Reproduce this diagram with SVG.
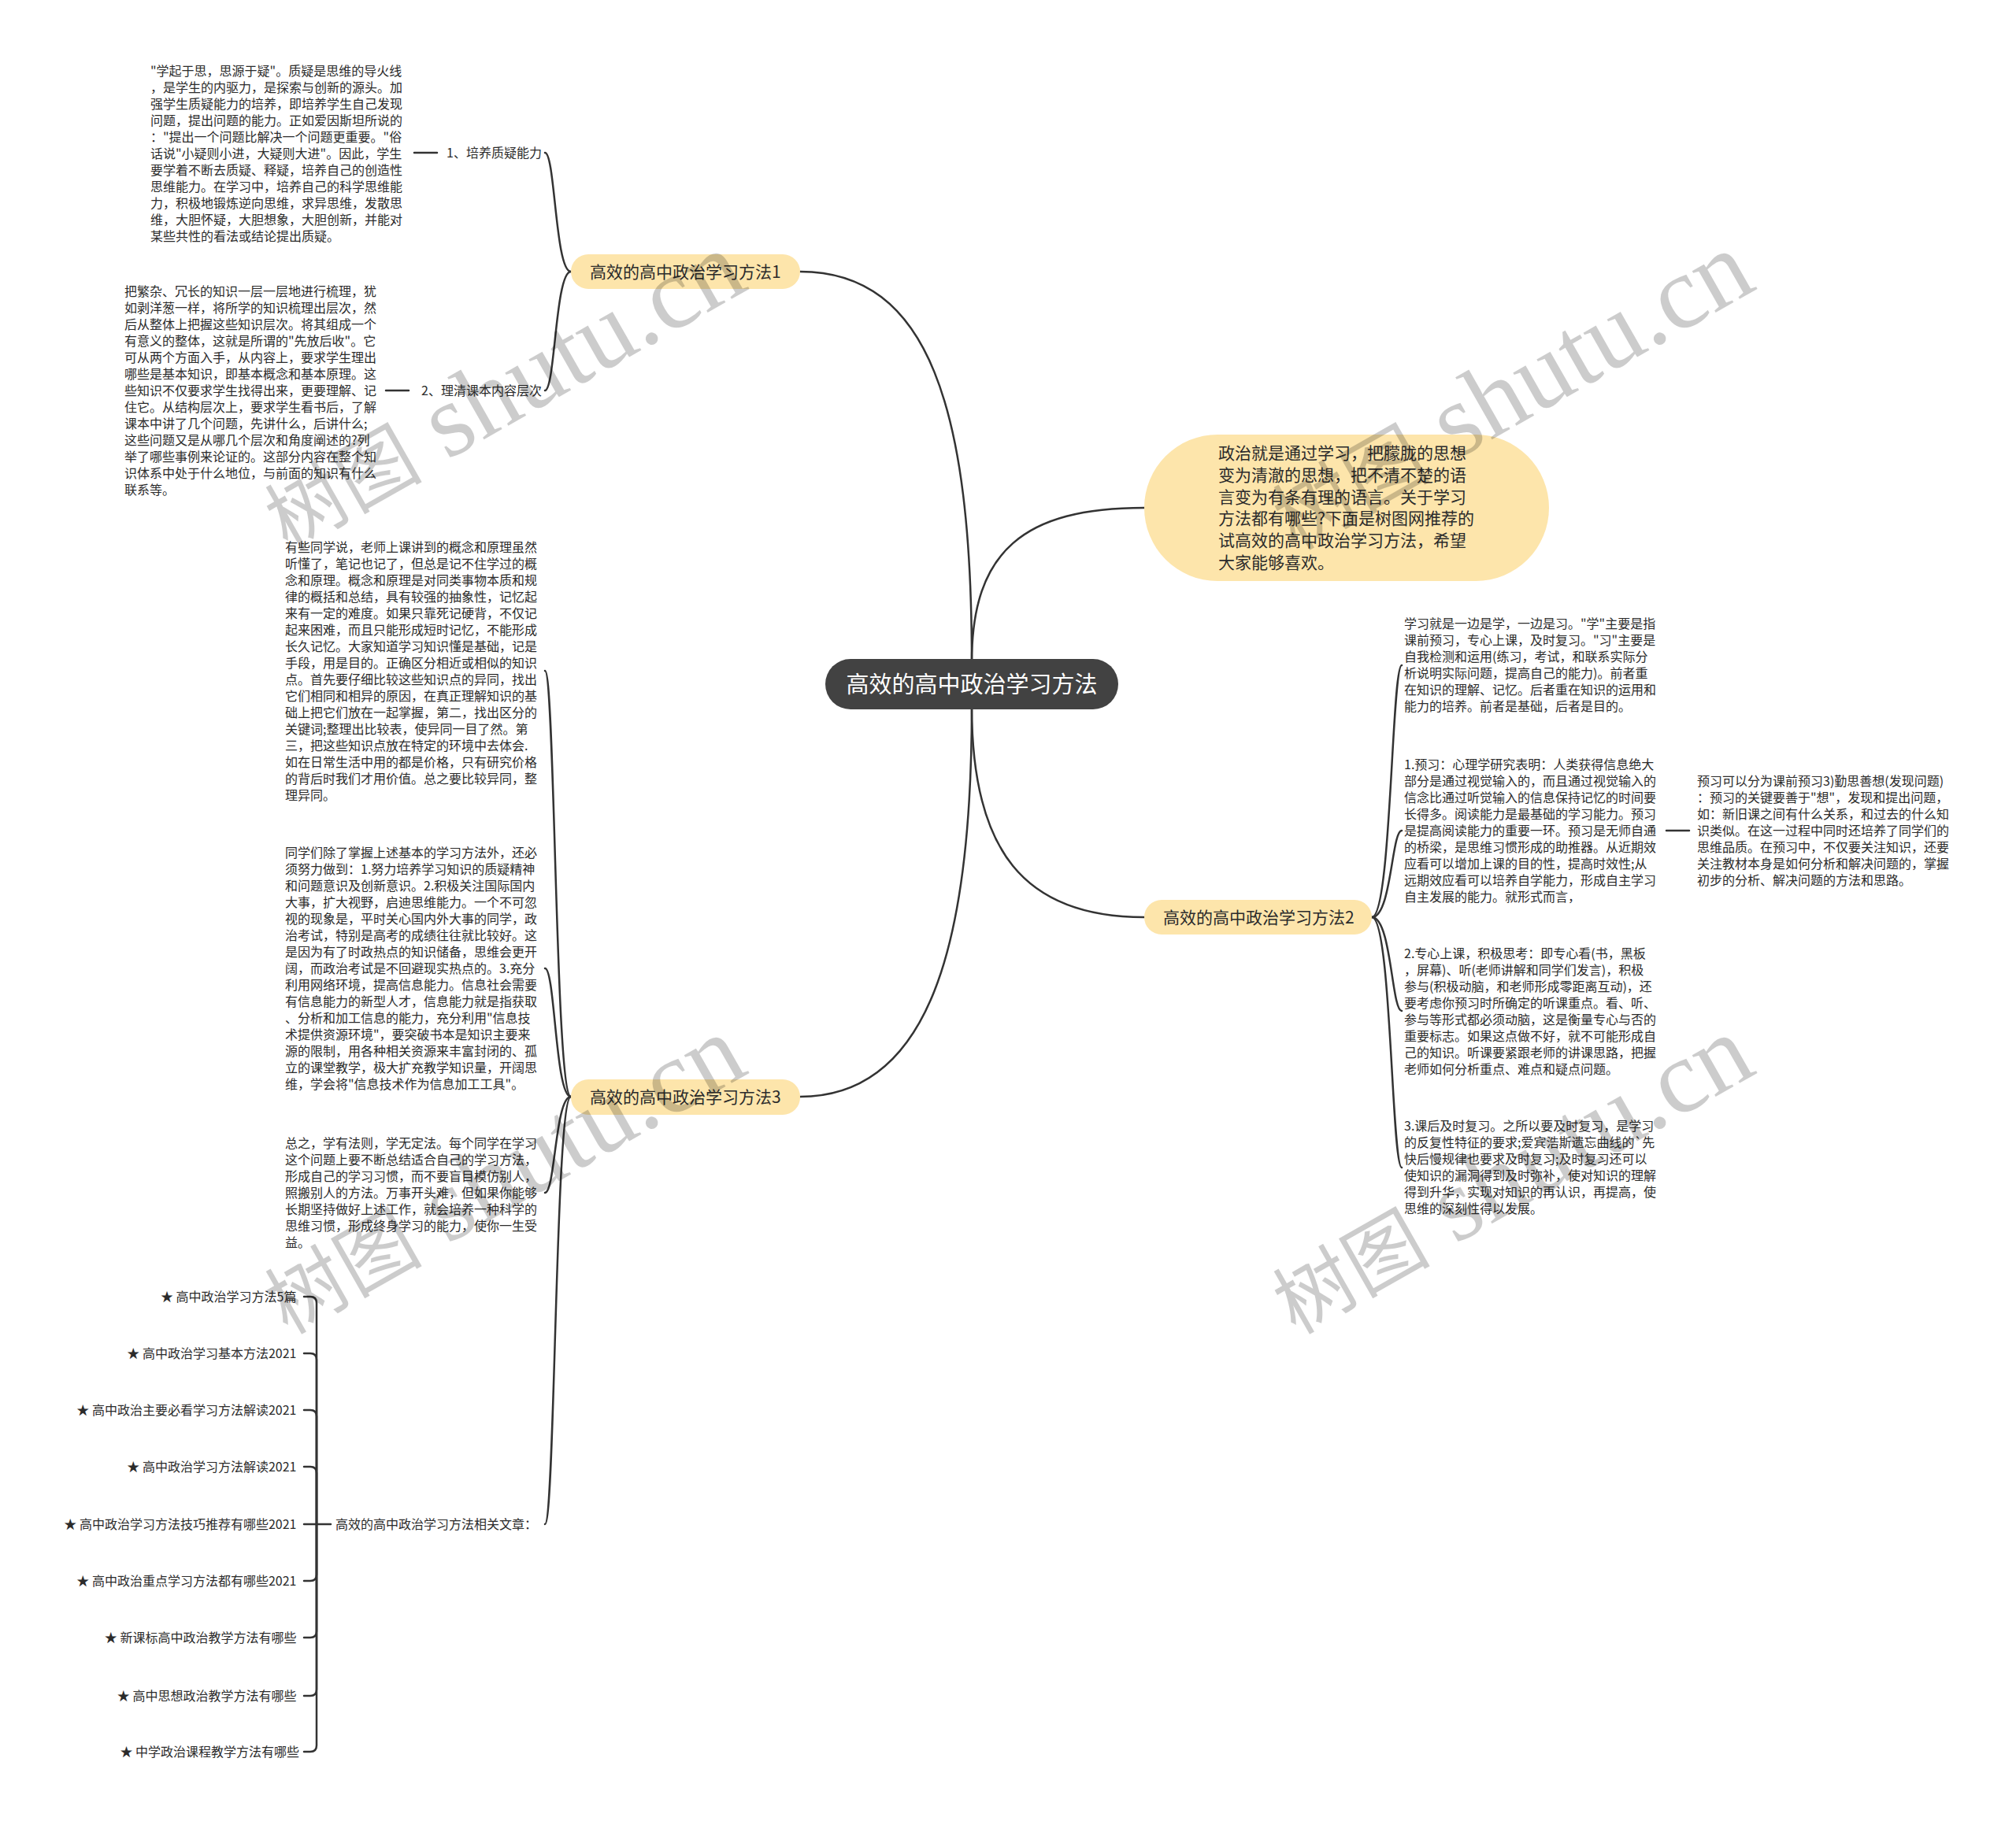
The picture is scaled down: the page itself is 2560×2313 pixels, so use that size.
<svg xmlns="http://www.w3.org/2000/svg" width="2560" height="2313" viewBox="0 0 2560 2313">
<style>
.t{font-family:"Noto Sans CJK SC","Liberation Sans",sans-serif;font-size:16px;fill:#2b2b2b}
.n{font-family:"Noto Sans CJK SC","Liberation Sans",sans-serif;font-size:21px;fill:#2b2b2b}
.c{font-family:"Noto Sans CJK SC","Liberation Sans",sans-serif;font-size:29px;fill:#ffffff}
.l{fill:none;stroke:#333333;stroke-width:2.5;stroke-linecap:round}
.y{fill:#fde5ab}
.wm{font-family:"Liberation Serif","Noto Sans CJK SC",serif;fill:#000000;fill-opacity:0.2}
</style>
<rect width="2560" height="2313" fill="#ffffff"/>
<g id="connectors">
<path class="l" d="M1234,841 C1234,520 1180,345 1016,345"/>
<path class="l" d="M1234,841 C1234,700 1300,645 1453,645"/>
<path class="l" d="M1234,898 C1234,1080 1300,1165 1453,1165"/>
<path class="l" d="M1234,898 C1234,1200 1180,1393 1016,1393"/>
<path class="l" d="M725,345 C705,345 705,194 692,194"/>
<path class="l" d="M725,345 C705,345 705,496 692,496"/>
<path class="l" d="M555,194 H526"/>
<path class="l" d="M519,496 H490"/>
<path class="l" d="M725,1393 C705,1393 705,852 692,852"/>
<path class="l" d="M725,1393 C705,1393 705,1230 692,1230"/>
<path class="l" d="M725,1393 C705,1393 705,1515 692,1515"/>
<path class="l" d="M725,1393 C705,1393 705,1936 692,1936"/>
<path class="l" d="M1742,1165 C1767,1165 1767,845 1780,845"/>
<path class="l" d="M1742,1165 C1767,1165 1767,1055 1780,1055"/>
<path class="l" d="M1742,1165 C1767,1165 1767,1284 1780,1284"/>
<path class="l" d="M1742,1165 C1767,1165 1767,1483 1780,1483"/>
<path class="l" d="M2116,1055 H2145"/>
<path class="l" d="M386,1936 H420"/>
<path class="l" d="M402,1936 V1655 Q402,1647 394,1647 H386"/>
<path class="l" d="M402,1936 V1727 Q402,1719 394,1719 H386"/>
<path class="l" d="M402,1936 V1799 Q402,1791 394,1791 H386"/>
<path class="l" d="M402,1936 V1871 Q402,1863 394,1863 H386"/>
<path class="l" d="M402,1936 V2000 Q402,2008 394,2008 H386"/>
<path class="l" d="M402,1936 V2072 Q402,2080 394,2080 H386"/>
<path class="l" d="M402,1936 V2146 Q402,2154 394,2154 H386"/>
<path class="l" d="M402,1936 V2217 Q402,2225 394,2225 H386"/>
</g>
<g id="root">
<rect x="1048" y="837" width="372" height="64" rx="32" fill="#424242"/>
<text class="c" x="1234" y="880" text-anchor="middle">高效的高中政治学习方法</text>
</g>
<g id="intro">
<rect class="y" x="1453" y="552" width="514" height="186" rx="93"/>
<text class="n">
<tspan x="1547" y="583">政治就是通过学习，把朦胧的思想</tspan>
<tspan x="1547" y="611">变为清澈的思想，把不清不楚的语</tspan>
<tspan x="1547" y="639">言变为有条有理的语言。关于学习</tspan>
<tspan x="1547" y="666">方法都有哪些?下面是树图网推荐的</tspan>
<tspan x="1547" y="694">试高效的高中政治学习方法，希望</tspan>
<tspan x="1547" y="722">大家能够喜欢。</tspan>
</text>
</g>
<g id="method1">
<rect class="y" x="725" y="323" width="291" height="44" rx="22"/>
<text class="n" x="749" y="353">高效的高中政治学习方法1</text>
</g>
<g id="m1-label1">
<text class="t" x="688" y="200" text-anchor="end">1、培养质疑能力</text>
</g>
<g id="m1-text1">
<text class="t">
<tspan x="191" y="96">"学起于思，思源于疑"。质疑是思维的导火线</tspan>
<tspan x="191" y="117">，是学生的内驱力，是探索与创新的源头。加</tspan>
<tspan x="191" y="138">强学生质疑能力的培养，即培养学生自己发现</tspan>
<tspan x="191" y="159">问题，提出问题的能力。正如爱因斯坦所说的</tspan>
<tspan x="191" y="180">："提出一个问题比解决一个问题更重要。"俗</tspan>
<tspan x="191" y="201">话说"小疑则小进，大疑则大进"。因此，学生</tspan>
<tspan x="191" y="222">要学着不断去质疑、释疑，培养自己的创造性</tspan>
<tspan x="191" y="243">思维能力。在学习中，培养自己的科学思维能</tspan>
<tspan x="191" y="264">力，积极地锻炼逆向思维，求异思维，发散思</tspan>
<tspan x="191" y="285">维，大胆怀疑，大胆想象，大胆创新，并能对</tspan>
<tspan x="191" y="306">某些共性的看法或结论提出质疑。</tspan>
</text>
</g>
<g id="m1-label2">
<text class="t" x="688" y="502" text-anchor="end">2、理清课本内容层次</text>
</g>
<g id="m1-text2">
<text class="t">
<tspan x="158" y="376">把繁杂、冗长的知识一层一层地进行梳理，犹</tspan>
<tspan x="158" y="397">如剥洋葱一样，将所学的知识梳理出层次，然</tspan>
<tspan x="158" y="418">后从整体上把握这些知识层次。将其组成一个</tspan>
<tspan x="158" y="439">有意义的整体，这就是所谓的"先放后收"。它</tspan>
<tspan x="158" y="460">可从两个方面入手，从内容上，要求学生理出</tspan>
<tspan x="158" y="481">哪些是基本知识，即基本概念和基本原理。这</tspan>
<tspan x="158" y="502">些知识不仅要求学生找得出来，更要理解、记</tspan>
<tspan x="158" y="523">住它。从结构层次上，要求学生看书后，了解</tspan>
<tspan x="158" y="544">课本中讲了几个问题，先讲什么，后讲什么;</tspan>
<tspan x="158" y="565">这些问题又是从哪几个层次和角度阐述的?列</tspan>
<tspan x="158" y="586">举了哪些事例来论证的。这部分内容在整个知</tspan>
<tspan x="158" y="607">识体系中处于什么地位，与前面的知识有什么</tspan>
<tspan x="158" y="628">联系等。</tspan>
</text>
</g>
<g id="method3">
<rect class="y" x="725" y="1371" width="291" height="45" rx="22"/>
<text class="n" x="749" y="1401">高效的高中政治学习方法3</text>
</g>
<g id="m3-text1">
<text class="t">
<tspan x="362" y="701">有些同学说，老师上课讲到的概念和原理虽然</tspan>
<tspan x="362" y="722">听懂了，笔记也记了，但总是记不住学过的概</tspan>
<tspan x="362" y="743">念和原理。概念和原理是对同类事物本质和规</tspan>
<tspan x="362" y="764">律的概括和总结，具有较强的抽象性，记忆起</tspan>
<tspan x="362" y="785">来有一定的难度。如果只靠死记硬背，不仅记</tspan>
<tspan x="362" y="806">起来困难，而且只能形成短时记忆，不能形成</tspan>
<tspan x="362" y="827">长久记忆。大家知道学习知识懂是基础，记是</tspan>
<tspan x="362" y="848">手段，用是目的。正确区分相近或相似的知识</tspan>
<tspan x="362" y="869">点。首先要仔细比较这些知识点的异同，找出</tspan>
<tspan x="362" y="890">它们相同和相异的原因，在真正理解知识的基</tspan>
<tspan x="362" y="911">础上把它们放在一起掌握，第二，找出区分的</tspan>
<tspan x="362" y="932">关键词;整理出比较表，使异同一目了然。第</tspan>
<tspan x="362" y="953">三，把这些知识点放在特定的环境中去体会.</tspan>
<tspan x="362" y="974">如在日常生活中用的都是价格，只有研究价格</tspan>
<tspan x="362" y="995">的背后时我们才用价值。总之要比较异同，整</tspan>
<tspan x="362" y="1016">理异同。</tspan>
</text>
</g>
<g id="m3-text2">
<text class="t">
<tspan x="362" y="1089">同学们除了掌握上述基本的学习方法外，还必</tspan>
<tspan x="362" y="1110">须努力做到：1.努力培养学习知识的质疑精神</tspan>
<tspan x="362" y="1131">和问题意识及创新意识。2.积极关注国际国内</tspan>
<tspan x="362" y="1152">大事，扩大视野，启迪思维能力。一个不可忽</tspan>
<tspan x="362" y="1173">视的现象是，平时关心国内外大事的同学，政</tspan>
<tspan x="362" y="1194">治考试，特别是高考的成绩往往就比较好。这</tspan>
<tspan x="362" y="1215">是因为有了时政热点的知识储备，思维会更开</tspan>
<tspan x="362" y="1236">阔，而政治考试是不回避现实热点的。3.充分</tspan>
<tspan x="362" y="1257">利用网络环境，提高信息能力。信息社会需要</tspan>
<tspan x="362" y="1278">有信息能力的新型人才，信息能力就是指获取</tspan>
<tspan x="362" y="1299">、分析和加工信息的能力，充分利用"信息技</tspan>
<tspan x="362" y="1320">术提供资源环境"，要突破书本是知识主要来</tspan>
<tspan x="362" y="1341">源的限制，用各种相关资源来丰富封闭的、孤</tspan>
<tspan x="362" y="1362">立的课堂教学，极大扩充教学知识量，开阔思</tspan>
<tspan x="362" y="1383">维，学会将"信息技术作为信息加工工具"。</tspan>
</text>
</g>
<g id="m3-text3">
<text class="t">
<tspan x="362" y="1458">总之，学有法则，学无定法。每个同学在学习</tspan>
<tspan x="362" y="1479">这个问题上要不断总结适合自己的学习方法，</tspan>
<tspan x="362" y="1500">形成自己的学习习惯，而不要盲目模仿别人，</tspan>
<tspan x="362" y="1521">照搬别人的方法。万事开头难，但如果你能够</tspan>
<tspan x="362" y="1542">长期坚持做好上述工作，就会培养一种科学的</tspan>
<tspan x="362" y="1563">思维习惯，形成终身学习的能力，使你一生受</tspan>
<tspan x="362" y="1584">益。</tspan>
</text>
</g>
<g id="m3-related">
<text class="t" x="426" y="1942">高效的高中政治学习方法相关文章：</text>
</g>
<g id="related-items">
<text class="t" text-anchor="end">
<tspan x="380" y="1653">★ 高中政治学习方法5篇</tspan>
<tspan x="380" y="1725">★ 高中政治学习基本方法2021</tspan>
<tspan x="380" y="1797">★ 高中政治主要必看学习方法解读2021</tspan>
<tspan x="380" y="1869">★ 高中政治学习方法解读2021</tspan>
<tspan x="380" y="1942">★ 高中政治学习方法技巧推荐有哪些2021</tspan>
<tspan x="380" y="2014">★ 高中政治重点学习方法都有哪些2021</tspan>
<tspan x="380" y="2086">★ 新课标高中政治教学方法有哪些</tspan>
<tspan x="380" y="2160">★ 高中思想政治教学方法有哪些</tspan>
<tspan x="380" y="2231">★ 中学政治课程教学方法有哪些</tspan>
</text>
</g>
<g id="method2">
<rect class="y" x="1453" y="1143" width="289" height="44" rx="22"/>
<text class="n" x="1477" y="1173">高效的高中政治学习方法2</text>
</g>
<g id="m2-text1">
<text class="t">
<tspan x="1783" y="798">学习就是一边是学，一边是习。"学"主要是指</tspan>
<tspan x="1783" y="819">课前预习，专心上课，及时复习。"习"主要是</tspan>
<tspan x="1783" y="840">自我检测和运用(练习，考试，和联系实际分</tspan>
<tspan x="1783" y="861">析说明实际问题，提高自己的能力)。前者重</tspan>
<tspan x="1783" y="882">在知识的理解、记忆。后者重在知识的运用和</tspan>
<tspan x="1783" y="903">能力的培养。前者是基础，后者是目的。</tspan>
</text>
</g>
<g id="m2-text2">
<text class="t">
<tspan x="1783" y="977">1.预习：心理学研究表明：人类获得信息绝大</tspan>
<tspan x="1783" y="998">部分是通过视觉输入的，而且通过视觉输入的</tspan>
<tspan x="1783" y="1019">信念比通过听觉输入的信息保持记忆的时间要</tspan>
<tspan x="1783" y="1040">长得多。阅读能力是最基础的学习能力。预习</tspan>
<tspan x="1783" y="1061">是提高阅读能力的重要一环。预习是无师自通</tspan>
<tspan x="1783" y="1082">的桥梁，是思维习惯形成的助推器。从近期效</tspan>
<tspan x="1783" y="1103">应看可以增加上课的目的性，提高时效性;从</tspan>
<tspan x="1783" y="1124">远期效应看可以培养自学能力，形成自主学习</tspan>
<tspan x="1783" y="1145">自主发展的能力。就形式而言，</tspan>
</text>
</g>
<g id="m2-text2-child">
<text class="t">
<tspan x="2155" y="998">预习可以分为课前预习3)勤思善想(发现问题)</tspan>
<tspan x="2155" y="1019">：预习的关键要善于"想"，发现和提出问题，</tspan>
<tspan x="2155" y="1040">如：新旧课之间有什么关系，和过去的什么知</tspan>
<tspan x="2155" y="1061">识类似。在这一过程中同时还培养了同学们的</tspan>
<tspan x="2155" y="1082">思维品质。在预习中，不仅要关注知识，还要</tspan>
<tspan x="2155" y="1103">关注教材本身是如何分析和解决问题的，掌握</tspan>
<tspan x="2155" y="1124">初步的分析、解决问题的方法和思路。</tspan>
</text>
</g>
<g id="m2-text3">
<text class="t">
<tspan x="1783" y="1217">2.专心上课，积极思考：即专心看(书，黑板</tspan>
<tspan x="1783" y="1238">，屏幕)、听(老师讲解和同学们发言)，积极</tspan>
<tspan x="1783" y="1259">参与(积极动脑，和老师形成零距离互动)，还</tspan>
<tspan x="1783" y="1280">要考虑你预习时所确定的听课重点。看、听、</tspan>
<tspan x="1783" y="1301">参与等形式都必须动脑，这是衡量专心与否的</tspan>
<tspan x="1783" y="1322">重要标志。如果这点做不好，就不可能形成自</tspan>
<tspan x="1783" y="1343">己的知识。听课要紧跟老师的讲课思路，把握</tspan>
<tspan x="1783" y="1364">老师如何分析重点、难点和疑点问题。</tspan>
</text>
</g>
<g id="m2-text4">
<text class="t">
<tspan x="1783" y="1436">3.课后及时复习。之所以要及时复习，是学习</tspan>
<tspan x="1783" y="1457">的反复性特征的要求;爱宾浩斯遗忘曲线的`先</tspan>
<tspan x="1783" y="1478">快后慢规律也要求及时复习;及时复习还可以</tspan>
<tspan x="1783" y="1499">使知识的漏洞得到及时弥补，使对知识的理解</tspan>
<tspan x="1783" y="1520">得到升华，实现对知识的再认识，再提高，使</tspan>
<tspan x="1783" y="1541">思维的深刻性得以发展。</tspan>
</text>
</g>
<g id="watermarks">
<text class="wm" transform="translate(365,700) rotate(-29.6)"><tspan font-size="100">树图</tspan><tspan font-size="132"> shutu.cn</tspan></text>
<text class="wm" transform="translate(1645,700) rotate(-29.6)"><tspan font-size="100">树图</tspan><tspan font-size="132"> shutu.cn</tspan></text>
<text class="wm" transform="translate(365,1696) rotate(-29.6)"><tspan font-size="100">树图</tspan><tspan font-size="132"> shutu.cn</tspan></text>
<text class="wm" transform="translate(1645,1696) rotate(-29.6)"><tspan font-size="100">树图</tspan><tspan font-size="132"> shutu.cn</tspan></text>
</g>
</svg>
